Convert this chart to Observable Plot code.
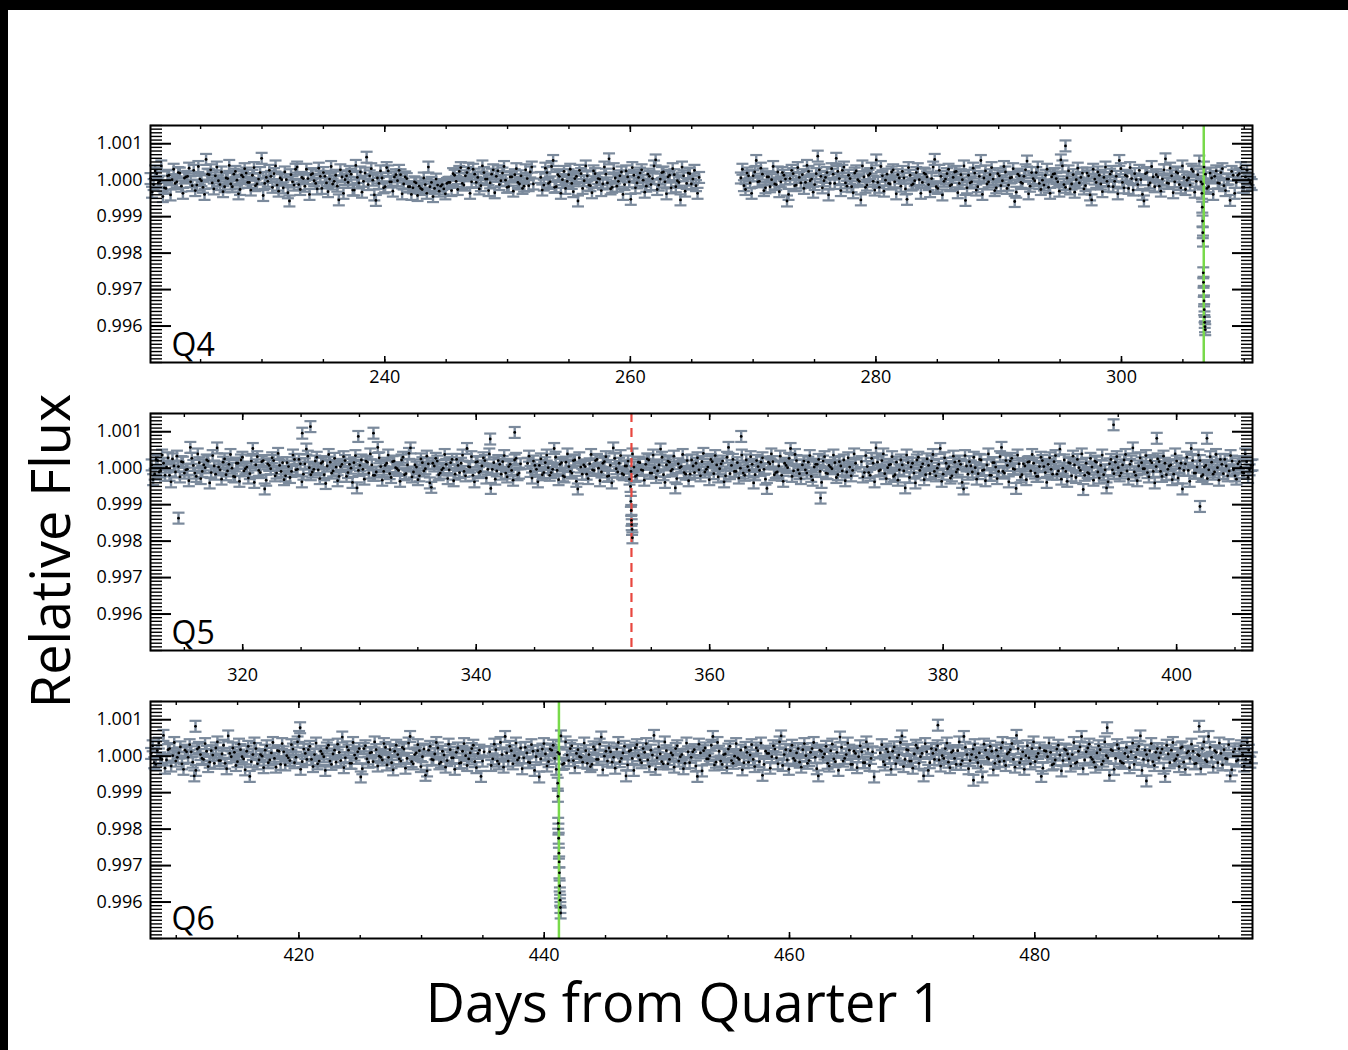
<!DOCTYPE html>
<html>
<head>
<meta charset="utf-8">
<script src="https://cdn.jsdelivr.net/npm/d3@7"></script>
<script src="https://cdn.jsdelivr.net/npm/@observablehq/plot@0.6"></script>
<style>
  html, body { margin: 0; padding: 0; background: #fff; }
  #page { position: relative; width: 1348px; height: 1050px; background: #fff; overflow: hidden; font-family: "Open Sans", sans-serif; }
  .panel { position: absolute; left: 0; }
  #topbar { position: absolute; left: 0; top: 0; width: 1348px; height: 10px; background: #000; }
  #leftbar { position: absolute; left: 0; top: 0; width: 8px; height: 1050px; background: #000; }
  #ylab { position: absolute; left: 49px; top: 551px; transform: translate(-50%, -50%) rotate(-90deg); font-size: 54px; line-height: 54px; white-space: nowrap; color: #000; }
  #xlab { position: absolute; left: 684px; top: 974px; transform: translateX(-50%); font-size: 54px; line-height: 54px; white-space: nowrap; color: #000; }
</style>
</head>
<body>
<div id="page">
  <div id="topbar"></div>
  <div id="leftbar"></div>
  <div id="p4" class="panel" style="top:115px"></div>
  <div id="p5" class="panel" style="top:403px"></div>
  <div id="p6" class="panel" style="top:691px"></div>
  <div id="ylab">Relative Flux</div>
  <div id="xlab">Days from Quarter 1</div>
</div>
<script>
// ---------------- DATA (flux deviations in units of 15 ppm, read/estimated from the figure) ----------------
// Each segment has a cadence series ("...A") and an interleaved half-cadence series ("...A2").
const fluxUnit = 1.5e-5;
const fluxErr = 0.00015;

// Quarter 4
const q4Domain = [220.92, 310.67];
const q4XTicks = [240, 260, 280, 300];
const q4SegA = [220.92, 252.1];
const q4FluxA = [3,-8,12,-2,-30,-15,9,1,-6,14,-11,4,7,-3,18,-9,2,-13,38,10,
 -5,8,-1,15,-12,3,-7,11,0,-17,6,13,-4,9,-10,2,40,-6,-2,7,
 12,-9,4,-14,1,-38,-3,20,-8,5,-11,3,10,-1,-16,7,14,-5,2,-7,
 9,-36,6,1,-4,11,-18,5,15,-2,42,8,0,-37,-6,4,-12,17,-3,6,
 -1,10,-7,3,-12,-14,-5,-11,-17,-8,24,-4,-15,-9,-11,-16,-6,-4,12,-2,
 16,-6,8,22,-3,11,5,-10,14,2,-5,19,7,-8,13,0,-12,6,10,-4,
 8,-11,3,15,-7];
const q4FluxA2 = [-22,17,-5,26,-14,8,-27,20,-3,13,-24,6,22,-10,-19,25,-1,-26,11,19,
 -16,24,-8,-21,4,27,-12,16,-25,9,21,-4,-18,23,-7,14,-28,5,18,-13,
 26,-20,1,15,-23,10,-9,24,-17,3,20,-26,12,-6,22,-15,7,-21,25,-2,
 -11,19,-24,8,16,-18,27,-5,-22,13,-8,21,-27,4,17,-14,23,-3,-20,10,
 18,-25,6,-12,-26,-3,-28,-15,4,-24,-12,-30,2,-20,-8,-25,-4,-19,9,-17,
 23,-9,14,-24,20,-4,-16,26,2,-19,11,-23,17,-1,25,-13,6,-20,21,-7,
 -15,19,-10,24];
const q4SegB = [252.7, 265.6];
const q4FluxB = [5,-9,14,-3,36,-12,7,1,-15,10,-6,3,-38,12,-1,8,-10,17,-4,2,
 -7,11,39,-13,4,-2,15,-8,6,-35,9,-5,13,0,-11,7,3,37,-9,14,
 -3,6,-14,10,-1,-36,8,-6,12,2,-10,5];
const q4FluxB2 = [-18,22,-6,25,-13,10,-24,16,-2,20,-21,7,18,-15,26,-9,-23,12,3,-19,
 24,-5,-16,21,-11,8,-26,17,-3,23,-14,5,19,-22,11,-8,26,-17,2,15,
 -25,9,21,-12,-4,24,-20,13,-7,18,-24];
const q4SegC = [269.0, 310.6];
const q4FluxC = [4,-10,13,-5,8,36,-2,11,-14,6,1,-7,15,-3,9,-38,3,12,-9,5,
 10,-4,16,2,-8,44,7,-1,14,-6,11,40,3,18,-5,9,-12,13,1,-36,
 6,-9,12,-2,37,-13,8,0,-6,15,-3,10,-11,4,-35,9,-7,14,1,-4,
 11,-8,3,38,-15,7,-2,12,-10,5,16,-6,1,-37,9,-3,13,-12,36,4,
 -7,10,2,-14,8,-1,15,-9,5,-39,11,-4,7,35,-11,3,14,-6,0,9,
 -13,6,12,-3,37,-8,4,-16,10,1,-5,13,-10,8,-36,2,15,-7,5,-2,
 11,-12,7,36,-4,9,-15,3,12,-8,1,-38,14,-5,6,10,-11,2,39,-6,
 8,-3,13,-14,5,0,-9,16,-2,35,-7,11,-12,4,7,-5,14,-10,2,-37,
 9,-4,12,-13,6,1,-8];
const q4FluxC2 = [20,-17,8,-24,15,-3,22,-19,6,-12,25,-8,-21,14,2,-26,18,-10,23,-5,
 -15,27,-1,-22,12,19,-14,5,-27,21,-6,16,-19,24,-11,3,-23,17,-2,26,
 -13,9,22,-18,-4,25,-20,11,-7,19,-25,4,16,-16,23,-9,-1,21,-24,13,
 6,-21,24,-12,18,-27,2,20,-8,15,-23,10,26,-14,-5,22,-18,7,-26,17,
 -3,23,-19,12,-10,25,-15,4,21,-22,8,-6,19,-25,14,-1,24,-17,-9,20,
 -24,11,3,-20,26,-13,17,-7,-22,22,5,-16,13,-27,20,-4,9,-21,24,-11,
 16,-2,-25,21,-14,7,23,-18,1,18,-26,12,-9,25,-12,6,-20,19,-5,22,
 -23,15,-8,26,-17,4,20,-22,10,-3,24,-15,13,-26,17,-6,21,-19,2,16,
 -24,9,23,-13,18,-4];
const q4OutlierT = [295.44];
const q4OutlierF = [1.00094];
const q4EventT = 306.70;
const q4TransitT = [306.55,306.58,306.60,306.62,306.64,306.66,306.68,306.70,306.72,306.74,306.76,306.78,306.80,306.82];
const q4TransitF = [0.99964,0.99926,0.99888,0.99856,0.99833,0.99746,0.99720,0.99695,0.99669,0.99645,0.99625,0.99610,0.99598,0.99590];

// Quarter 5
const q5Domain = [312.1, 406.5];
const q5XTicks = [320, 340, 360, 380, 400];
const q5SegA = [312.2, 343.8];
const q5FluxA = [6,-11,14,-4,9,2,-13,17,-7,3,12,-9,-2,38,5,-15,10,-6,1,13,
 -8,4,37,-3,11,-12,7,0,-16,9,15,-5,2,-10,36,6,-4,12,-38,8,
 -1,14,-9,5,10,-14,3,-6,16,-2,8,-11,35,1,-7,13,-3,9,-12,4,
 11,-5,2,-15,7,14,-8,0,10,-36,5,-2,13,-9,6,-13,38,3,-6,9,
 -10,12,1,-4,15,-12,6,37,-7,2,-14,10,-1,8,-35,4,13,-9,0,7,
 -3,16,-11,5,9,-6,36,2,-13,11,-8,4,14,-2,-37,10,-5,7,12,-9,
 3,-4,15,-12,8];
const q5FluxA2 = [-21,16,-7,24,-13,19,-25,4,22,-16,11,-3,-23,18,-9,26,-19,6,15,-27,
 23,-11,2,-20,17,-5,25,-15,9,-24,20,-1,-18,13,-26,21,-8,14,-22,5,
 19,-14,27,-6,-21,10,-17,24,-3,16,-25,8,22,-12,-2,20,-19,12,-28,25,
 -9,18,-23,3,21,-15,7,-26,23,-4,15,-20,11,26,-13,-7,19,-22,5,24,
 -17,13,-1,-24,20,-10,27,-16,6,-21,17,-5,22,-27,9,18,-12,-3,25,-19,
 10,-23,16,-8,24,-14,3,21,-25,12,-6,19,-18,26,-2,-20,14,-11,23,-16,
 7,-22,18,-9];
const q5SegB = [344.4, 372.5];
const q5FluxB = [9,-6,13,-2,5,-12,10,1,-8,36,-4,7,-14,11,3,-9,15,-38,2,6,
 -11,8,-3,14,0,-7,12,-15,5,37,-1,9,-10,4,13,-6,2,-13,10,-4,
 7,15,-9,1,-5,35,-12,6,11,-2,-36,8,3,-8,14,-11,4,9,-3,12,
 -7,2,16,-10,6,-1,13,-14,38,5,-6,10,0,-9,15,-4,7,-12,3,11,
 -2,-37,8,12,-8,4,-13,9,1,36,-5,14,-10,6,-3,11,-15,2,7,-6,
 13,-9,5,-1,10,-12,4,15,-7,2,-4,9];
const q5FluxB2 = [22,-18,5,-25,17,-8,24,-13,-2,20,-21,10,-16,26,-6,14,-24,19,-11,3,
 -19,25,-4,16,-23,9,21,-14,-27,18,-7,23,-12,4,-20,26,-15,11,-3,-22,
 17,-9,24,-17,6,20,-26,13,-5,22,-19,1,25,-11,-23,15,-8,19,-14,27,
 -2,-21,12,23,-16,8,-25,20,-10,16,-6,-18,24,-13,3,21,-27,14,-4,19,
 -20,11,26,-12,-7,22,-24,5,18,-15,25,-3,-19,13,-9,23,-22,7,16,-26,
 21,-10,2,24,-17,12,-5,-23,19,-14,26];
const q5SegC = [373.0, 406.5];
const q5FluxC = [12,-8,3,-13,9,37,-5,14,-10,1,7,-15,11,-3,6,-36,10,2,-9,15,
 -4,8,-12,5,13,-6,0,36,-11,9,3,-14,11,-2,7,-38,4,12,-7,1,
 -10,15,-3,6,-13,10,2,-6,38,-9,5,13,-1,-37,8,-12,4,11,-5,9,
 -15,3,14,-8,7,-2,12,-11,35,0,-6,10,-14,6,16,-4,-39,9,-10,2,
 13,-7,5,-12,-36,8,-3,11,1,-9,15,-5,7,37,-13,4,10,-1,-8,14,
 -6,3,12,-15,9,-2,6,-11,13,0,-38,8,-4,36,-9,2,14,-12,5,-3,
 11,-7,1,16,-10,4,-5,13,-14,8,2,-9,12,-3,6];
const q5FluxC2 = [-16,23,-8,18,-25,11,-3,26,-19,6,21,-12,-22,15,-5,24,-17,9,-27,20,
 2,-21,17,-10,25,-14,7,-24,19,-1,-18,22,-7,13,-26,23,-11,4,20,-20,
 16,-4,-23,26,-13,10,-19,21,-6,14,-25,18,-2,24,-16,8,-21,12,25,-9,
 -15,20,3,-26,19,-11,23,-5,-20,15,-24,9,22,-17,1,26,-13,-8,18,-22,
 11,-18,24,-3,-25,16,-10,21,-14,6,25,-20,13,-7,-23,19,-1,23,-16,10,
 -27,17,-6,22,-12,4,-21,26,-18,9,-4,20,-24,14,-9,24,-15,2,-19,21,
 -11,25,-22,7,16,-14,23,-3,-20,12,-8,26,-17,5];
const q5OutlierT = [314.5, 325.1, 325.8, 329.9, 331.2, 341.2, 343.3, 362.7, 369.5, 394.6, 398.3, 402.0, 402.6];
const q5OutlierF = [0.99863, 1.00096, 1.00114, 1.00087, 1.00096, 1.00080, 1.00098, 1.00087, 0.99918, 1.00119, 1.00082, 0.99895, 1.00082];
const q5EventT = 353.3;
const q5DipT = [353.22, 353.25, 353.28, 353.30, 353.32, 353.35, 353.38];
const q5DipF = [0.99950, 0.99909, 0.99884, 0.99857, 0.99845, 0.99832, 0.99809];

// Quarter 6
const q6Domain = [407.9, 497.75];
const q6XTicks = [420, 440, 460, 480];
const q6SegA = [407.95, 435.1];
const q6FluxA = [5,-12,10,-3,38,-7,14,1,-9,6,-14,11,-2,8,-36,13,3,-6,9,-11,
 2,15,-8,4,-13,37,-1,7,-10,12,-5,9,-37,3,14,-7,0,11,-12,6,
 -4,10,-15,8,1,-8,13,-2,36,-10,5,12,-6,3,-14,9,-1,15,-9,4,
 -11,7,35,-3,11,-13,2,8,-38,14,-5,6,-10,12,0,-7,16,-2,-12,9,
 3,-9,13,-4,36,-14,6,10,-1,-35,11,-6,4,15,-11,2,-8,12,-3,7,
 -13,9,1,-5,14,-10,5,-37,8];
const q6FluxA2 = [19,-15,24,-6,-22,12,-18,25,-2,17,-24,8,21,-11,-26,16,-4,23,-19,10,
 -13,26,-8,20,-23,5,15,-17,22,-1,-25,18,-10,24,-14,3,-21,19,-7,25,
 -20,9,23,-16,-3,21,-12,26,-24,13,-6,18,-19,24,-9,4,-26,20,-15,11,
 22,-8,-21,17,-13,25,-4,14,-23,19,-11,7,26,-18,-2,23,-16,12,-25,20,
 -5,16,-22,24,-10,3,21,-19,13,-27,18,-7,25,-14,9,-20,22,-3,-24,15,
 -12,23,-17,6,20,-21,11,-9];
const q6SegB = [435.55, 466.9];
const q6FluxB = [8,-5,12,-14,3,36,-9,10,1,-7,15,-3,6,-12,9,-1,-38,13,4,-10,
 11,-4,7,37,-13,2,14,-8,5,-1,-11,10,3,-15,12,-6,35,0,-9,8,
 -2,13,-10,6,-36,9,-4,15,1,-12,7,-7,11,38,-3,4,-14,10,-6,2,
 14,-9,3,-13,8,-2,12,-37,6,10,-5,1,36,-11,9,-15,4,13,-8,0,
 -3,11,-12,7,2,-6,15,-10,-35,9,5,-1,13,-14,37,3,-7,10,-4,6,
 -11,12,1,-8,14,-2,-36,9,4,-13,10,-5,7,35,-9,3,11,-15,5,-1,
 8,-12,13,-4,-38];
const q6FluxB2 = [-17,22,-9,25,-20,6,18,-14,24,-3,-23,16,-11,21,-26,10,-5,23,-18,13,
 20,-24,4,-15,26,-8,19,-21,12,-2,24,-13,-19,17,-6,22,-25,9,15,-11,
 -22,25,-4,18,-16,11,-26,21,-7,14,23,-19,2,-24,17,-10,26,-14,6,-20,
 19,-1,-23,24,-12,8,-18,22,-27,15,-5,20,-16,25,-9,3,-21,18,-13,23,
 -6,-25,16,-11,21,-19,10,24,-15,5,-22,19,-3,26,-17,12,-24,20,-8,14,
 -20,23,-13,7,25,-23,11,-2,18,-18,22,-10,-26,16,-4,24,-15,9,-21,19,
 -12,26,-17,8];
const q6SegC = [467.4, 497.7];
const q6FluxC = [6,-10,13,-3,9,-14,2,37,-6,11,-9,4,15,-1,-36,8,-12,5,12,-7,
 1,14,-11,7,-4,10,-15,36,3,-8,13,-2,6,-38,11,-5,9,-13,0,15,
 -9,4,12,-6,38,-12,8,1,-3,14,-10,5,-37,10,-1,7,-14,13,2,-8,
 11,-5,3,-13,9,36,-7,15,-2,-11,6,12,-9,1,-35,10,-4,14,-12,5,
 -1,8,-15,12,37,-6,3,10,-10,7,-3,13,-37,4,11,-8,2,15,-11,6,
 -4,9,-13,1,14,-7,36,-2,10,-12,5,12,-5,-36,8,-9,13,3,-6,11,
 -3];
const q6FluxC2 = [21,-16,8,-24,17,-3,25,-19,12,-9,-22,20,-13,5,23,-26,14,-6,19,-18,
 -4,24,-21,10,-15,26,-8,16,-23,3,21,-12,-19,22,-2,18,-25,11,-10,25,
 -17,7,23,-20,14,-5,-24,19,-14,26,-1,15,-22,9,24,-16,-7,20,-27,13,
 4,-18,25,-11,17,-23,8,22,-6,-20,19,-15,26,-3,12,-24,21,-9,-13,16,
 -21,24,-2,18,-26,11,-8,23,-17,14,6,-22,20,-12,25,-5,-19,17,-24,9,
 22,-14,3,-23,26,-10,16,-20,7,24,-16,-4,21,-25,13,-7,19,-18,25,-11];
const q6OutlierT = [411.57, 420.1, 472.1, 475.0, 485.9, 489.1, 493.4];
const q6OutlierF = [1.00082, 1.00078, 1.00085, 0.99934, 1.00078, 0.99932, 1.00082];
const q6EventT = 441.2;
const q6TransitT = [441.10,441.12,441.14,441.16,441.18,441.20,441.22,441.24,441.26,441.28,441.30,441.32,441.34];
const q6TransitF = [0.99926,0.99890,0.99816,0.99800,0.99775,0.99734,0.99710,0.99680,0.99644,0.99625,0.99605,0.99585,0.99570];

const yDomain = [0.995, 1.0015];
const yTicks = [0.996, 0.997, 0.998, 0.999, 1.000, 1.001];

// ---------------- BUILD ----------------
// main series on the cadence grid, second series at the half-cadence points between them
function segment(seg, vals, vals2) {
  const n = vals.length, step = (seg[1] - seg[0]) / (n - 1);
  const a = vals.map((v, i) => ({t: seg[0] + i * step, f: 1 + v * fluxUnit}));
  const b = vals2.map((v, i) => ({t: seg[0] + (i + 0.5) * step, f: 1 + v * fluxUnit}));
  return [...a, ...b];
}
function pairs(T, F) { return T.map((t, i) => ({t, f: F[i]})); }

const GRAY = "#7b8a9c";
const capSymbol = {draw(ctx, size) { const w = Math.sqrt(size / Math.PI); ctx.moveTo(-w, 0); ctx.lineTo(w, 0); }};
const yMinor = d3.range(0, 66).map(i => 0.995 + i * 0.0001);

function panel(cfg) {
  const pts = cfg.points;
  const xMinor = d3.range(Math.ceil(cfg.domain[0] / 5) * 5, cfg.domain[1], 5);
  const eventMarks = cfg.eventDashed
    ? Plot.ruleX([cfg.event], {stroke: "#e8473f", strokeWidth: 2.2, strokeDasharray: "9,6"})
    : Plot.ruleX([cfg.event], {stroke: "#78d94a", strokeWidth: 2.5});
  return Plot.plot({
    width: 1348,
    height: 287,
    marginLeft: 150,
    marginRight: 96,
    marginTop: 10,
    marginBottom: 40,
    style: {fontFamily: "'Open Sans', sans-serif", fontSize: "18px", background: "transparent", color: "#000", overflow: "visible"},
    x: {domain: cfg.domain, axis: null, label: null},
    y: {domain: yDomain, axis: null, label: null},
    marks: [
      Plot.ruleX(pts, {x: "t", y1: d => d.f - fluxErr, y2: d => d.f + fluxErr, stroke: GRAY, strokeWidth: 2.4}),
      Plot.dot(pts, {x: "t", y: d => d.f + fluxErr, symbol: capSymbol, r: 6, stroke: GRAY, fill: "none", strokeWidth: 2.2}),
      Plot.dot(pts, {x: "t", y: d => d.f - fluxErr, symbol: capSymbol, r: 6, stroke: GRAY, fill: "none", strokeWidth: 2.2}),
      eventMarks,
      Plot.dot(pts, {x: "t", y: "f", r: 1.4, fill: "#000", stroke: "none"}),
      Plot.frame({stroke: "#000", strokeWidth: 2}),
      Plot.axisY({ticks: yTicks, anchor: "left", tickSize: -21, tickPadding: 29, tickFormat: d => d.toFixed(3), strokeWidth: 2, fontSize: 18, label: null}),
      Plot.axisY({ticks: yMinor, anchor: "left", tickSize: -12, fill: "none", strokeWidth: 1.4, label: null}),
      Plot.axisY({ticks: yTicks, anchor: "right", tickSize: -21, fill: "none", strokeWidth: 2, label: null}),
      Plot.axisY({ticks: yMinor, anchor: "right", tickSize: -12, fill: "none", strokeWidth: 1.4, label: null}),
      Plot.axisX({ticks: cfg.xTicks, anchor: "bottom", tickSize: -6, tickPadding: cfg.labelPad, tickFormat: d => String(d), strokeWidth: 1.6, fontSize: 18, label: null}),
      Plot.axisX({ticks: xMinor, anchor: "bottom", tickSize: -3, fill: "none", strokeWidth: 1.4, label: null}),
      Plot.axisX({ticks: cfg.xTicks, anchor: "top", tickSize: -6, fill: "none", strokeWidth: 1.6, label: null}),
      Plot.axisX({ticks: xMinor, anchor: "top", tickSize: -3, fill: "none", strokeWidth: 1.4, label: null}),
      Plot.text([cfg.name], {frameAnchor: "bottom-left", textAnchor: "start", lineAnchor: "bottom", dx: 21, dy: -cfg.nameLift, fontSize: 32, fill: "#000"})
    ]
  });
}

const panels = [
  {id: "p4", name: "Q4", domain: q4Domain, xTicks: q4XTicks, event: q4EventT, eventDashed: false, labelPad: 14, nameLift: 7,
   points: [...segment(q4SegA, q4FluxA, q4FluxA2), ...segment(q4SegB, q4FluxB, q4FluxB2), ...segment(q4SegC, q4FluxC, q4FluxC2), ...pairs(q4OutlierT, q4OutlierF), ...pairs(q4TransitT, q4TransitF)]},
  {id: "p5", name: "Q5", domain: q5Domain, xTicks: q5XTicks, event: q5EventT, eventDashed: true, labelPad: 24, nameLift: 7,
   points: [...segment(q5SegA, q5FluxA, q5FluxA2), ...segment(q5SegB, q5FluxB, q5FluxB2), ...segment(q5SegC, q5FluxC, q5FluxC2), ...pairs(q5OutlierT, q5OutlierF), ...pairs(q5DipT, q5DipF)]},
  {id: "p6", name: "Q6", domain: q6Domain, xTicks: q6XTicks, event: q6EventT, eventDashed: false, labelPad: 16, nameLift: 9,
   points: [...segment(q6SegA, q6FluxA, q6FluxA2), ...segment(q6SegB, q6FluxB, q6FluxB2), ...segment(q6SegC, q6FluxC, q6FluxC2), ...pairs(q6OutlierT, q6OutlierF), ...pairs(q6TransitT, q6TransitF)]}
];

for (const cfg of panels) {
  document.getElementById(cfg.id).appendChild(panel(cfg));
}
</script>
</body>
</html>
